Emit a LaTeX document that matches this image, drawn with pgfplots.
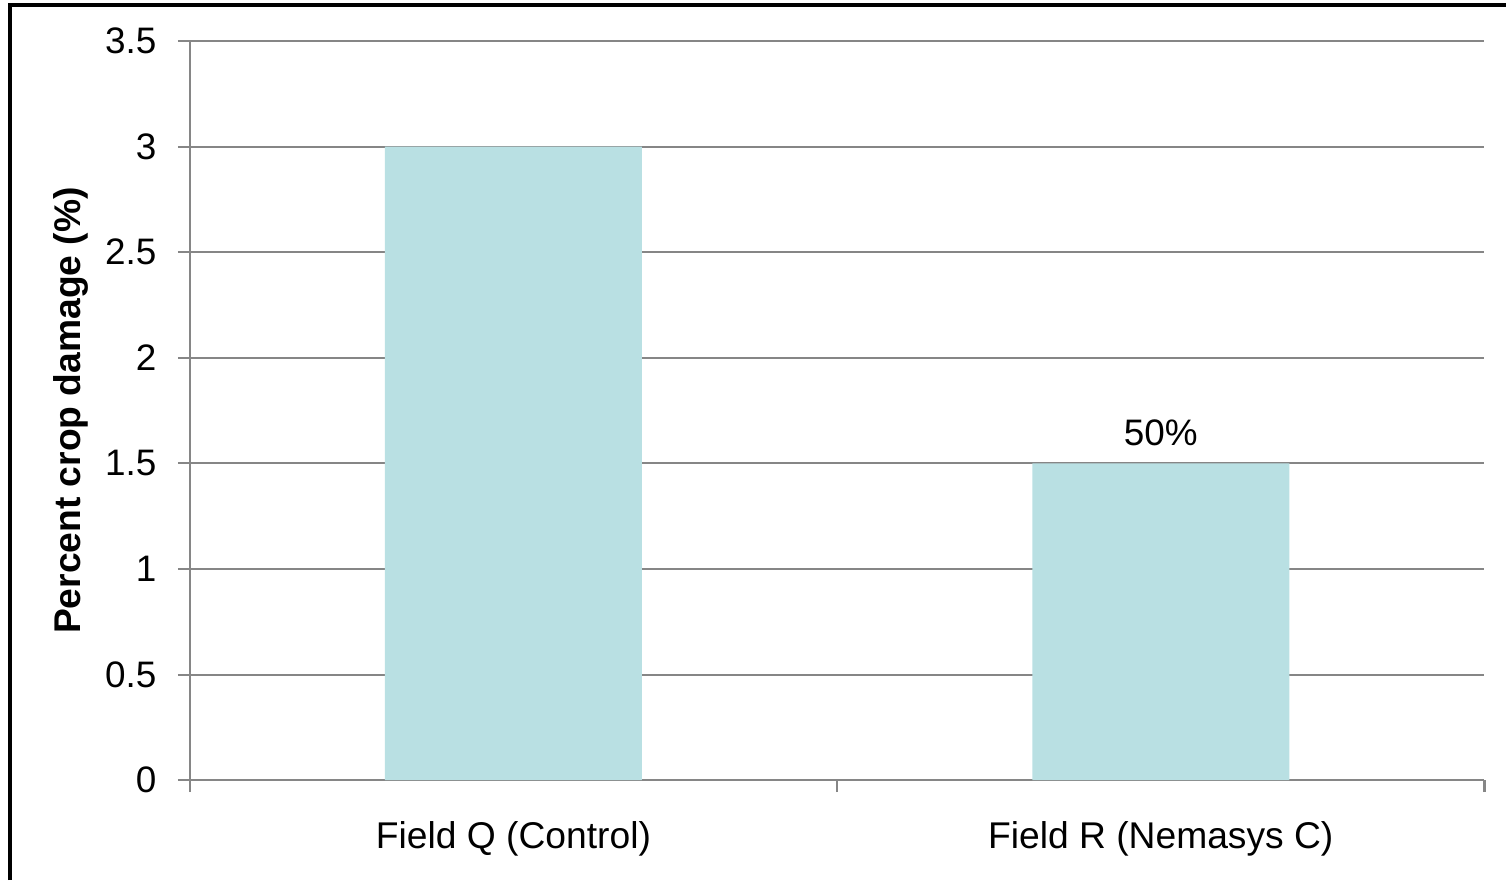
\documentclass[border=0pt]{standalone}
\usepackage{pgfplots}
\pgfplotsset{compat=1.18}
\usepackage{fontspec}
\setmainfont{Liberation Sans}
\definecolor{barfill}{RGB}{185,224,227}
\definecolor{gridgray}{RGB}{134,134,134}
\begin{document}
\begin{tikzpicture}
% page extent
\path (0,0) rectangle (15.08cm,8.81cm);
% outer frame (left and top edges)
\draw[line width=0.9pt,black] (0.10cm,0cm) -- (0.10cm,8.76cm) -- (15.08cm,8.76cm);
\begin{axis}[
  at={(1.90cm,1.00cm)}, anchor=south west,
  scale only axis,
  width=12.96cm, height=7.40cm,
  xmin=-0.5, xmax=1.5,
  ymin=0, ymax=3.5,
  ytick={0,0.5,...,3.5},
  xtick={0,1},
  xticklabels={Field Q (Control), Field R (Nemasys C)},
  minor xtick={-0.5,0.5,1.5},
  axis x line*=bottom, axis y line*=left,
  axis line style={gridgray, line width=0.6pt, -},
  ymajorgrids,
  major grid style={gridgray, line width=0.6pt},
  tick align=outside,
  major tick length=0.12cm,
  minor tick length=0.12cm,
  major x tick style={draw=none},
  tick style={gridgray, line width=0.6pt},
  minor tick style={gridgray, line width=0.6pt},
  /pgf/number format/assume math mode=true,
  yticklabel style={font=\fontsize{10.5}{12}\selectfont, xshift=-0.09cm},
  xticklabel style={font=\fontsize{10.6}{12}\selectfont, yshift=-0.17cm},
  ylabel={Percent crop damage (\%)},
  ylabel style={font=\fontsize{10.6}{12}\selectfont\bfseries, at={(axis description cs:-0.092,0.5)}, anchor=center, rotate=0},
  ybar, bar width=0.397,
  clip=false,
]
\addplot[fill=barfill, draw=none] coordinates {(0,3) (1,1.5)};
\node[anchor=south, font=\fontsize{10.5}{12}\selectfont, inner sep=0pt] at (axis cs:1,1.5) [yshift=0.17cm] {50\%};
\end{axis}
\end{tikzpicture}
\end{document}
